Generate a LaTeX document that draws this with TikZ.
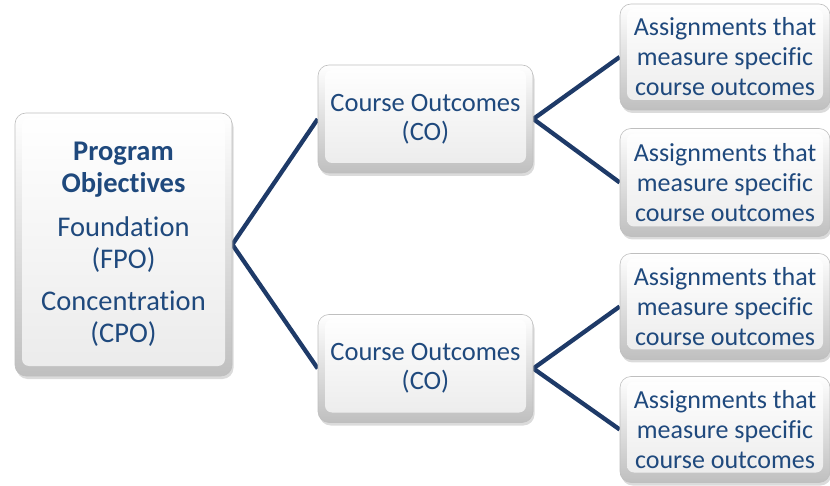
\documentclass[tikz,border=0pt]{standalone}
\usepackage{fontspec}
\setmainfont{Carlito}[RawFeature={-liga;-clig;-calt;-dlig}]
\usepackage{tikz}
\usetikzlibrary{shadows,calc,backgrounds}

\definecolor{textblue}{RGB}{31,73,125}
\definecolor{linkblue}{RGB}{30,58,104}

\begin{document}
\begin{tikzpicture}[x=1pt,y=1pt,
	box/.style={rounded corners=11pt, draw=gray!50, line width=.6pt,
		top color=white, bottom color=gray!50,
		drop shadow={shadow xshift=1.5pt,shadow yshift=-3pt,opacity=.35,fill=gray!80},
		text=textblue, align=center, inner sep=0pt,
		path picture={\shade[top color=white,bottom color=gray!16,rounded corners=7pt]
			($(path picture bounding box.south west)+(7pt,10pt)$) rectangle
			($(path picture bounding box.north east)+(-7pt,-5pt)$);}},
	link/.style={linkblue, line width=4.3pt, line join=miter}]
	\useasboundingbox (0,0) rectangle (830,485);

	% program objectives
	\node[box, minimum width=217pt, minimum height=263pt, font=\fontsize{28.5}{32}\selectfont] (prog) at (123.5,240.5)
		{\textbf{Program}\\\textbf{Objectives}\\[12pt]Foundation\\(FPO)\\[10pt]Concentration\\(CPO)};

	% course outcomes
	\node[box, minimum width=215pt, minimum height=108pt, font=\fontsize{26.5}{29}\selectfont] (co1) at (425.5,366) {Course Outcomes\\(CO)};
	\node[box, minimum width=215pt, minimum height=108pt, font=\fontsize{26.5}{29}\selectfont] (co2) at (425.5,116.5) {Course Outcomes\\(CO)};

	% assignments
	\node[box, minimum width=210pt, minimum height=106pt, font=\fontsize{26}{30}\selectfont] (as1) at (725,428) {Assignments that\\measure specific\\course outcomes};
	\node[box, minimum width=210pt, minimum height=108pt, font=\fontsize{26}{30}\selectfont] (as2) at (725,302.5) {Assignments that\\measure specific\\course outcomes};
	\node[box, minimum width=210pt, minimum height=106pt, font=\fontsize{26}{30}\selectfont] (as3) at (725,178.5) {Assignments that\\measure specific\\course outcomes};
	\node[box, minimum width=210pt, minimum height=106pt, font=\fontsize{26}{30}\selectfont] (as4) at (725,55.5) {Assignments that\\measure specific\\course outcomes};

	\begin{scope}[on background layer]
		\draw[link] (co1.west) -- (prog.east) -- (co2.west);
		\draw[link] (as1.west) -- (co1.east) -- (as2.west);
		\draw[link] (as3.west) -- (co2.east) -- (as4.west);
	\end{scope}
\end{tikzpicture}
\end{document}
